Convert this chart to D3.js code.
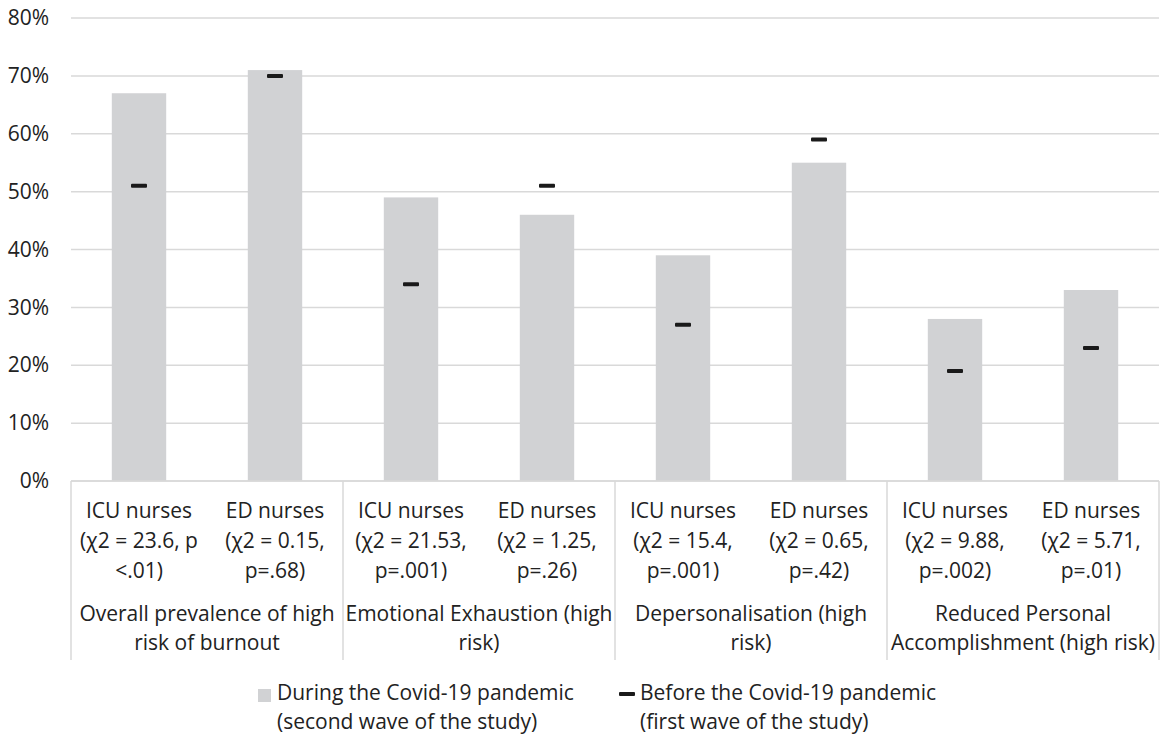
<!DOCTYPE html>
<html lang="en">
<head>
<meta charset="UTF-8"/>
<title>Burnout risk before and during Covid-19</title>
<script src="https://d3js.org/d3.v7.min.js"></script>
<style>
	body { margin: 0; background: #fff; }
	text { font-family: "Open Sans", sans-serif; fill: #222; }
</style>
</head>
<body>
<script>
	var w = 1161;
	var h = 736;
	var fs = "21px";

	// data
	var groups = ["Overall prevalence of high|risk of burnout", "Emotional Exhaustion (high|risk)",
		"Depersonalisation (high|risk)", "Reduced Personal|Accomplishment (high risk)"];
	var subLabels = [
		"ICU nurses|(\u03c72 = 23.6, p|<.01)", "ED nurses|(\u03c72 = 0.15,|p=.68)",
		"ICU nurses|(\u03c72 = 21.53,|p=.001)", "ED nurses|(\u03c72 = 1.25,|p=.26)",
		"ICU nurses|(\u03c72 = 15.4,|p=.001)", "ED nurses|(\u03c72 = 0.65,|p=.42)",
		"ICU nurses|(\u03c72 = 9.88,|p=.002)", "ED nurses|(\u03c72 = 5.71,|p=.01)"];
	var during = [67, 71, 49, 46, 39, 55, 28, 33];   // second wave (bars)
	var before = [51, 70, 34, 51, 27, 59, 19, 23];   // first wave (dash markers)
	var yTicks = [0, 10, 20, 30, 40, 50, 60, 70, 80];

	var padL = 71, padR = 1159, padT = 18, baseY = 481;

	var xScale = d3.scaleBand()
		.domain(d3.range(during.length))
		.range([padL, padR])
		.paddingInner(0.6)
		.paddingOuter(0.3);

	var yScale = d3.scaleLinear()
		.domain([0, 80])
		.range([baseY, padT]);

	var svg = d3.select("body").append("svg")
		.attr("width", w)
		.attr("height", h);

	// gridlines
	svg.selectAll("line.grid")
		.data(yTicks)
		.enter().append("line")
		.attr("x1", padL).attr("x2", padR)
		.attr("y1", function(d){ return yScale(d); })
		.attr("y2", function(d){ return yScale(d); })
		.attr("stroke", "#d9d9d9")
		.attr("stroke-width", 1.5);

	// y tick labels
	var yAxis = d3.axisLeft(yScale)
		.tickValues(yTicks)
		.tickSize(0)
		.tickPadding(22)
		.tickFormat(function(d){ return d + "%"; });
	var gy = svg.append("g")
		.attr("transform", "translate(" + padL + ",0)")
		.call(yAxis);
	gy.select(".domain").remove();
	gy.selectAll("text").style("font-size", fs).style("font-family", "'Open Sans', sans-serif").attr("fill", "#222");

	// bars
	svg.selectAll("rect.bar")
		.data(during)
		.enter().append("rect")
		.attr("class", "bar")
		.attr("x", function(d, i){ return xScale(i); })
		.attr("y", function(d){ return yScale(d); })
		.attr("width", xScale.bandwidth())
		.attr("height", function(d){ return baseY - yScale(d); })
		.attr("fill", "#d1d2d4");

	// dash markers
	svg.selectAll("rect.mark")
		.data(before)
		.enter().append("rect")
		.attr("x", function(d, i){ return xScale(i) + xScale.bandwidth() / 2 - 8; })
		.attr("y", function(d){ return yScale(d) - 2; })
		.attr("width", 16)
		.attr("height", 4)
		.attr("rx", 1)
		.attr("fill", "#1a1a1a");

	// category axis: baseline and group dividers
	svg.append("line")
		.attr("x1", padL).attr("x2", padR)
		.attr("y1", baseY).attr("y2", baseY)
		.attr("stroke", "#d9d9d9").attr("stroke-width", 1.5);

	var step = xScale.step();
	var groupEdges = d3.range(groups.length + 1).map(function(g){ return padL + g * 2 * step; });
	svg.selectAll("line.div")
		.data(groupEdges)
		.enter().append("line")
		.attr("x1", function(d){ return d; }).attr("x2", function(d){ return d; })
		.attr("y1", baseY).attr("y2", 660)
		.attr("stroke", "#d9d9d9").attr("stroke-width", 1.5);

	// sub-category labels
	subLabels.forEach(function(lbl, i){
		var t = svg.append("text")
			.attr("text-anchor", "middle")
			.style("font-size", fs);
		lbl.split("|").forEach(function(line, k){
			t.append("tspan")
				.attr("x", xScale(i) + xScale.bandwidth() / 2)
				.attr("y", 518 + k * 30)
				.text(line);
		});
	});

	// group labels
	groups.forEach(function(lbl, g){
		var t = svg.append("text")
			.attr("text-anchor", "middle")
			.style("font-size", fs);
		lbl.split("|").forEach(function(line, k){
			t.append("tspan")
				.attr("x", padL + (g * 2 + 1) * step)
				.attr("y", 621 + k * 29)
				.text(line);
		});
	});

	// legend
	var lg = svg.append("g");
	lg.append("rect").attr("x", 258).attr("y", 689).attr("width", 13).attr("height", 13).attr("fill", "#d1d2d4");
	lg.append("text").style("font-size", fs)
		.selectAll("tspan").data(["During the Covid-19 pandemic", "(second wave of the study)"])
		.enter().append("tspan")
		.attr("x", 277).attr("y", function(d, k){ return 700 + k * 29; })
		.text(function(d){ return d; });
	lg.append("rect").attr("x", 619).attr("y", 692).attr("width", 16).attr("height", 4).attr("rx", 1).attr("fill", "#1a1a1a");
	lg.append("text").style("font-size", fs)
		.selectAll("tspan").data(["Before the Covid-19 pandemic", "(first wave of the study)"])
		.enter().append("tspan")
		.attr("x", 640).attr("y", function(d, k){ return 700 + k * 29; })
		.text(function(d){ return d; });
</script>
</body>
</html>
